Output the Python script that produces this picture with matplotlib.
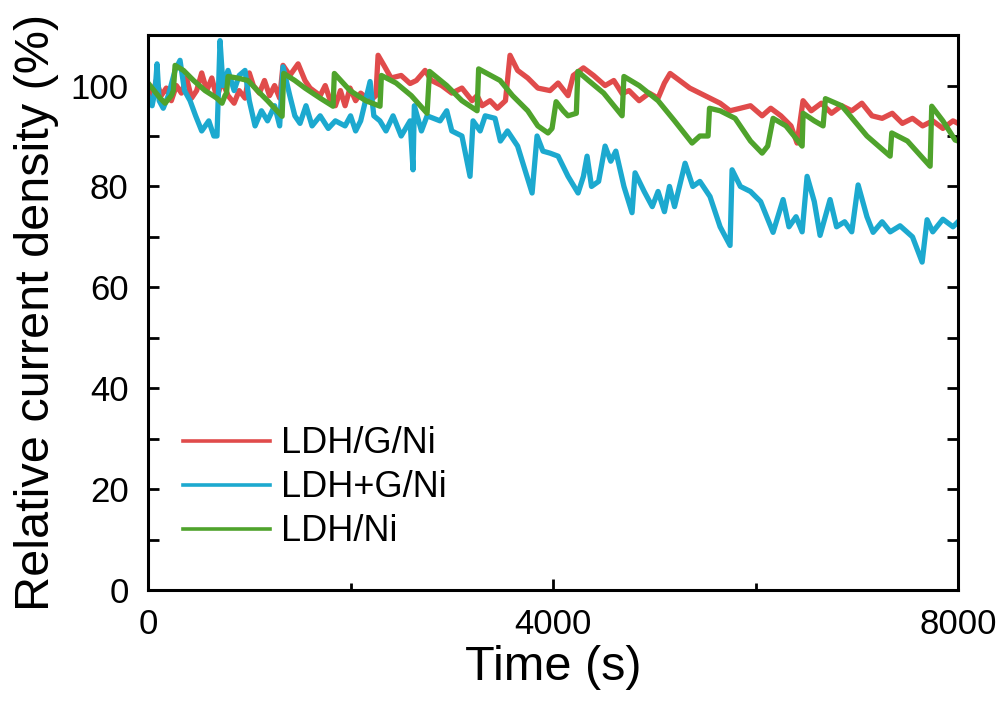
import matplotlib
matplotlib.use("Agg")
import matplotlib.pyplot as plt
from matplotlib.ticker import MultipleLocator

plt.rcParams['font.family'] = ['Liberation Sans', 'DejaVu Sans']

# LDH/G/Ni (red)
t_red = [0, 40, 80, 130, 180, 230, 280, 330, 380, 430, 480, 530, 580, 630, 680, 730,
         790, 850, 900, 958, 1000, 1040, 1100, 1150, 1200, 1250, 1300, 1333, 1400, 1482,
         1550, 1600, 1700, 1750, 1800, 1850, 1900, 1946, 1995, 2050, 2100, 2193, 2250,
         2272, 2330, 2400, 2500, 2588, 2650, 2736, 2800, 2900, 3000, 3100, 3200, 3250,
         3300, 3378, 3450, 3530, 3575, 3650, 3750, 3850, 3970, 4050, 4148, 4200, 4300,
         4400, 4514, 4600, 4682, 4750, 4850, 4950, 5037, 5100, 5156, 5250, 5350, 5450,
         5550, 5650, 5748, 5850, 5950, 6065, 6150, 6250, 6350, 6410, 6469, 6550, 6650,
         6750, 6850, 6950, 7050, 7150, 7250, 7350, 7450, 7550, 7650, 7750, 7850, 7950, 8000]
v_red = [100, 97.5, 101, 98, 99.5, 97, 100, 98.5, 101.5, 97.5, 99, 102.5, 99, 101.5, 97.5, 101,
         98, 96.5, 99, 97.5, 102.5, 100, 98.5, 101, 98, 100, 97.5, 104, 102, 104.3,
         101, 99.5, 98, 100, 97, 96, 99, 96, 99.5, 97, 98.5, 97, 98,
         106, 104, 101.5, 102, 100.4, 101, 103, 101, 100, 98.5, 99.5, 97, 98,
         96, 97, 95.5, 97, 106, 103, 101.5, 99.5, 99, 100.5, 98, 102, 103.5,
         102, 100, 101, 98.4, 99, 97, 98.5, 97.5, 100.5, 102.4, 101, 99.5, 98.5,
         97.5, 96.5, 95, 95.5, 96, 94, 95.5, 94, 92, 88.6, 97, 95, 96.5,
         94.5, 96, 95, 96.5, 94, 93.5, 94.5, 92.5, 93.5, 92, 93, 91.5, 93, 92.5]

# LDH+G/Ni (blue)
t_blue = [0, 40, 70, 89, 110, 150, 200, 267, 316, 360, 415, 470, 530, 600, 650, 681, 711,
          740, 790, 850, 900, 958, 1000, 1057, 1120, 1180, 1250, 1300, 1333, 1400, 1450,
          1501, 1560, 1620, 1700, 1780, 1850, 1946, 2000, 2050, 2100, 2193, 2230, 2290,
          2350, 2420, 2500, 2588, 2617, 2630, 2700, 2756, 2884, 2950, 3000, 3100, 3180,
          3210, 3280, 3330, 3427, 3480, 3550, 3650, 3793, 3842, 3900, 3970, 4050, 4148,
          4247, 4300, 4336, 4380, 4450, 4514, 4570, 4620, 4700, 4780, 4810, 4900, 4980,
          5037, 5100, 5150, 5200, 5304, 5380, 5450, 5550, 5650, 5748, 5768, 5850, 5950,
          6050, 6173, 6272, 6330, 6400, 6460, 6509, 6580, 6637, 6736, 6800, 6880, 6950,
          7013, 7100, 7161, 7250, 7330, 7427, 7550, 7645, 7694, 7750, 7850, 7950, 8000]
v_blue = [98, 96, 99, 104.3, 97, 95.5, 98, 103, 105, 99, 97, 94, 91, 93, 90, 90, 108.9,
          100, 103, 99, 102, 103, 97, 92, 95, 93, 96, 92, 103.7, 98, 94,
          92.5, 96, 92, 94, 91.5, 93, 92, 94, 91, 93, 100.8, 94, 93,
          91, 94, 90, 93, 83.3, 96, 91, 94, 93, 95, 91, 90, 82,
          93, 91, 94, 93.5, 89, 91, 88, 78.7, 90, 87, 86.6, 86, 82,
          78.7, 82, 86, 80, 81, 88, 85, 87, 80, 74.8, 82.7, 79, 76,
          79, 75, 80, 76, 84.6, 80, 81, 78, 72, 68.3, 83.3, 80, 79,
          77, 70.9, 77.4, 72, 74, 71, 82, 77, 70.3, 77.4, 72, 73, 71,
          80.3, 74, 70.9, 73, 71, 72.2, 70, 65, 73.4, 71, 73.5, 72, 73]

# LDH/Ni (green)
t_green = [0, 60, 120, 168, 230, 250, 267, 350, 450, 563, 680, 731, 760, 775, 790, 880, 988, 1080,
           1180, 1324, 1340, 1450, 1550, 1700, 1827, 1840, 1995, 2150, 2291, 2305, 2450,
           2600, 2756, 2780, 2950, 3100, 3250, 3265, 3477, 3600, 3750, 3850, 3950, 3990,
           4030, 4100, 4148, 4230, 4245, 4350, 4500, 4682, 4700, 4850, 5037, 5200, 5373,
           5450, 5531, 5545, 5650, 5798, 5950, 6065, 6120, 6173, 6300, 6460, 6470, 6580,
           6667, 6690, 6850, 6934, 7100, 7329, 7345, 7500, 7724, 7740, 7850, 7971, 8000]
v_green = [100.5, 99, 97.5, 96.5, 98, 99, 104, 103, 101, 99, 97.5, 96.5, 98, 98.5, 101.8, 101.5, 101, 99,
           97, 93.9, 102.4, 101, 99.5, 97.5, 95.9, 102.4, 99, 97, 95.9, 102, 100.5,
           98, 94.5, 102.8, 100, 97, 95, 103.3, 101, 98, 95, 92, 90.6, 91.5,
           96.8, 95, 94, 94.5, 102.8, 101, 98.5, 94, 101.8, 100, 97, 93, 88.6,
           90, 90, 95.5, 95, 93.5, 89, 86.6, 88, 93.5, 92, 88, 94.5, 93,
           92, 97.4, 96, 94, 90, 86, 90.6, 89, 84, 95.9, 93, 89.2, 89]

fig = plt.figure(figsize=(10.03, 7.02), dpi=100)
ax = fig.add_axes([0.1476, 0.1595, 0.8076, 0.7905])

ax.plot(t_red, v_red, color='#e04b4b', lw=3.8, label='LDH/G/Ni')
ax.plot(t_blue, v_blue, color='#1ca9cf', lw=3.8, label='LDH+G/Ni')
ax.plot(t_green, v_green, color='#4fa32c', lw=3.8, label='LDH/Ni')

ax.set_xlim(0, 8000)
ax.set_ylim(0, 110)
ax.xaxis.set_major_locator(MultipleLocator(4000))
ax.xaxis.set_minor_locator(MultipleLocator(2000))
ax.yaxis.set_major_locator(MultipleLocator(20))
ax.yaxis.set_minor_locator(MultipleLocator(10))
ax.tick_params(which='both', direction='in', width=2, labelsize=25)
ax.tick_params(axis='x', which='major', length=8, pad=13)
ax.tick_params(axis='x', which='minor', length=5)
ax.tick_params(axis='y', which='both', length=8, right=True, pad=14)
for s in ax.spines.values():
    s.set_linewidth(2.2)

ax.set_xlabel('Time (s)', fontsize=35, labelpad=3)
ax.set_ylabel('Relative current density (%)', fontsize=35, labelpad=8)

leg = ax.legend(loc='center left', bbox_to_anchor=(0.043, 0.184), frameon=False,
                fontsize=26, handlelength=2.4, handletextpad=0.33, labelspacing=0.25,
                borderpad=0, borderaxespad=0)
for h in leg.get_lines():
    h.set_linewidth(2.6)

fig.savefig('out.png', dpi=100)
